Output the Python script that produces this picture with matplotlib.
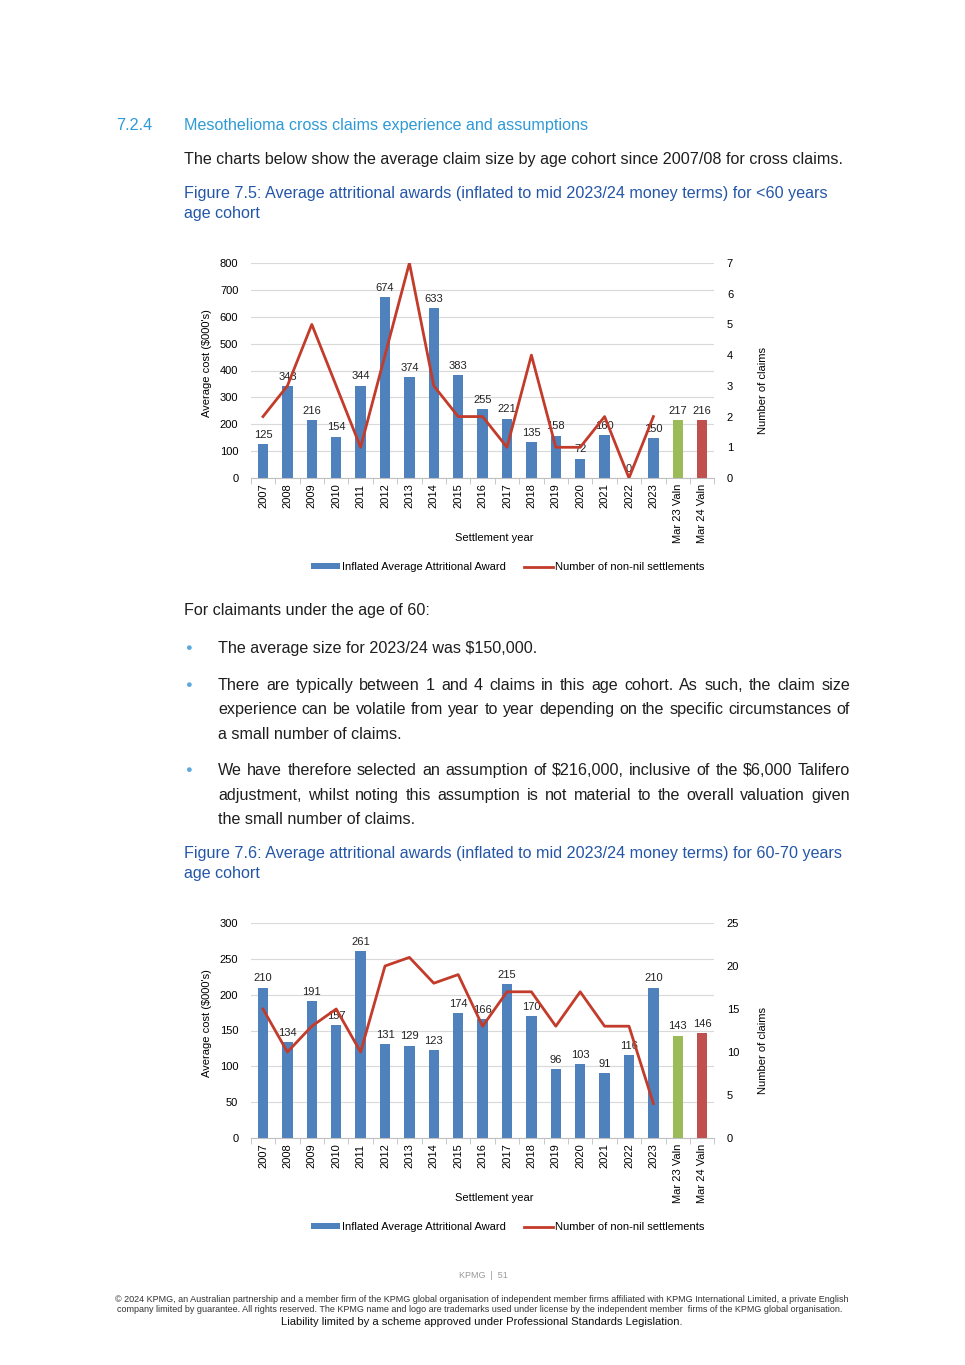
import matplotlib
matplotlib.use('Agg')
import matplotlib.pyplot as plt
from matplotlib.patches import Patch
from matplotlib.lines import Line2D
import numpy as np

plt.rcParams.update({
    'font.family': ['Liberation Sans', 'DejaVu Sans'],
    'font.size': 8,
})

BODY = ['Liberation Sans', 'DejaVu Sans']

categories = ['2007', '2008', '2009', '2010', '2011', '2012', '2013', '2014', '2015',
              '2016', '2017', '2018', '2019', '2020', '2021', '2022', '2023',
              'Mar 23 Valn', 'Mar 24 Valn']
years_line = categories[:17]

# Figure 7.5: <60 years
award_lt60 = [125, 343, 216, 154, 344, 674, 374, 633, 383, 255, 221, 135, 158, 72, 160, 0, 150, 217, 216]
claims_lt60 = [2, 3, 5, 3, 1, 4, 7, 3, 2, 2, 1, 4, 1, 1, 2, 0, 2]

# Figure 7.6: 60-70 years
award_6070 = [210, 134, 191, 157, 261, 131, 129, 123, 174, 166, 215, 170, 96, 103, 91, 116, 210, 143, 146]
claims_6070 = [15, 10, 13, 15, 10, 20, 21, 18, 19, 13, 17, 17, 13, 17, 13, 13, 4]

BLUE = '#4F81BD'
GREEN = '#9BBB59'
RED = '#C0504D'
LINE = '#C33B2A'
HEAD = '#2E9AD6'
CAP = '#2456A8'
TXT = '#1E1E1E'

W, H = 965, 1365
fig = plt.figure(figsize=(W / 100, H / 100), dpi=100)


def fx(px):
    return px / W


def fy(py):
    return 1 - py / H


def chart(top, bottom, awards, claims, ymax, ystep, y2max, y2step):
    ax = fig.add_axes([fx(250.8), fy(bottom), fx(463.6), (bottom - top) / H])
    x = np.arange(len(categories))
    colors = [BLUE] * 17 + [GREEN, RED]
    ax.bar(x, awards, width=0.42, color=colors, zorder=2)
    for xi, v in zip(x, awards):
        ax.annotate(str(v), (xi, v), xytext=(0, 3), textcoords='offset points',
                    ha='center', va='bottom', fontsize=8, color='#222222', zorder=5)
    ax.set_xlim(-0.5, len(categories) - 0.5)
    ax.set_ylim(0, ymax)
    ax.set_yticks(np.arange(0, ymax + 1, ystep))
    ax.yaxis.grid(True, color='#D9D9D9', linewidth=0.8, zorder=0)
    ax.set_axisbelow(True)
    ax.set_xticks(x)
    ax.set_xticklabels(categories, rotation=90, fontsize=8)
    ax.set_xticks(np.arange(-0.5, len(categories), 1), minor=True)
    ax.tick_params(axis='x', which='major', length=0, pad=4)
    ax.tick_params(axis='x', which='minor', length=4, color='#BFBFBF')
    ax.tick_params(axis='y', length=0, labelsize=8, pad=9)
    for s in ['top', 'left', 'right']:
        ax.spines[s].set_visible(False)
    ax.spines['bottom'].set_color('#BFBFBF')

    ax2 = ax.twinx()
    ax2.plot(np.arange(len(years_line)), claims, color=LINE, linewidth=2.0, zorder=3)
    ax2.set_ylim(0, y2max)
    ax2.set_yticks(np.arange(0, y2max + 1, y2step))
    ax2.tick_params(axis='y', length=0, labelsize=8, pad=9)
    for s in ['top', 'left', 'right', 'bottom']:
        ax2.spines[s].set_visible(False)

    mid = (top + bottom) / 2
    fig.text(fx(207), fy(mid - 7), "Average cost ($000's)", rotation=90, fontsize=8,
             ha='center', va='center')
    fig.text(fx(763), fy(mid + 20), 'Number of claims', rotation=90, fontsize=8,
             ha='center', va='center')
    fig.text(fx(494), fy(bottom + 60), 'Settlement year', fontsize=8, ha='center', va='center')
    return ax


def legend(ycen):
    handles = [Patch(facecolor=BLUE, edgecolor='none'),
               Line2D([0], [0], color=LINE, linewidth=2.0)]
    fig.legend(handles, ['Inflated Average Attritional Award', 'Number of non-nil settlements'],
               loc='center', bbox_to_anchor=(fx(508), fy(ycen)), ncol=2, frameon=False,
               fontsize=8, handlelength=2.6, handleheight=0.45, handletextpad=0.2,
               columnspacing=1.6)


chart(263, 478, award_lt60, claims_lt60, 800, 100, 7, 1)
legend(567)
chart(923, 1138, award_6070, claims_6070, 300, 50, 25, 5)
legend(1227)

# ---- page text ----
fs_body = 11.6
BL = 5  # baseline offset from line centre, px


def line_text(x, y, s, color=TXT):
    return fig.text(fx(x), fy(y + BL), s, color=color, fontsize=fs_body, family=BODY,
                    va='baseline')


line_text(116, 125, '7.2.4', HEAD)
line_text(184, 125, 'Mesothelioma cross claims experience and assumptions', HEAD)
line_text(184, 159, 'The charts below show the average claim size by age cohort since 2007/08 for cross claims.')
line_text(184, 193, 'Figure 7.5: Average attritional awards (inflated to mid 2023/24 money terms) for <60 years', CAP)
line_text(184, 213, 'age cohort', CAP)
line_text(184, 610, 'For claimants under the age of 60:')

renderer = fig.canvas.get_renderer()


def justified(line, y, x0=218, x1=850):
    words = line.split()
    texts = [line_text(0, y, w) for w in words]
    widths = [t.get_window_extent(renderer).width for t in texts]
    gap = (x1 - x0 - sum(widths)) / (len(words) - 1)
    pos = x0
    for t, w in zip(texts, widths):
        t.set_x(fx(pos))
        pos += w + gap


for yb in [648, 685, 770]:
    fig.text(fx(188), fy(yb), '\u25cf', color='#5DA9DD', fontsize=8, va='center', ha='center')

line_text(218, 648, 'The average size for 2023/24 was $150,000.')
justified('There are typically between 1 and 4 claims in this age cohort. As such, the claim size', 685)
justified('experience can be volatile from year to year depending on the specific circumstances of', 709)
line_text(218, 734, 'a small number of claims.')
justified('We have therefore selected an assumption of $216,000, inclusive of the $6,000 Talifero', 770)
justified('adjustment, whilst noting this assumption is not material to the overall valuation given', 795)
line_text(218, 819, 'the small number of claims.')

line_text(184, 853, 'Figure 7.6: Average attritional awards (inflated to mid 2023/24 money terms) for 60-70 years', CAP)
line_text(184, 873, 'age cohort', CAP)

# footer
fig.text(fx(483), fy(1276), 'KPMG  |  51', color='#999999', fontsize=6.5, family=BODY,
         ha='center', va='center')
fig.text(fx(482), fy(1300), '\u00a9 2024 KPMG, an Australian partnership and a member firm of the KPMG global organisation of '
         'independent member firms affiliated with KPMG International Limited, a private English',
         color='#333333', fontsize=6.45, family=BODY, ha='center', va='center')
fig.text(fx(480), fy(1310), 'company limited by guarantee. All rights reserved. The KPMG name and logo are trademarks used '
         'under license by the independent member  firms of the KPMG global organisation.',
         color='#333333', fontsize=6.45, family=BODY, ha='center', va='center')
fig.text(fx(482), fy(1322), 'Liability limited by a scheme approved under Professional Standards Legislation.',
         color='#111111', fontsize=8.1, ha='center', va='center')

fig.savefig('out.png', dpi=100)
print('OK')
